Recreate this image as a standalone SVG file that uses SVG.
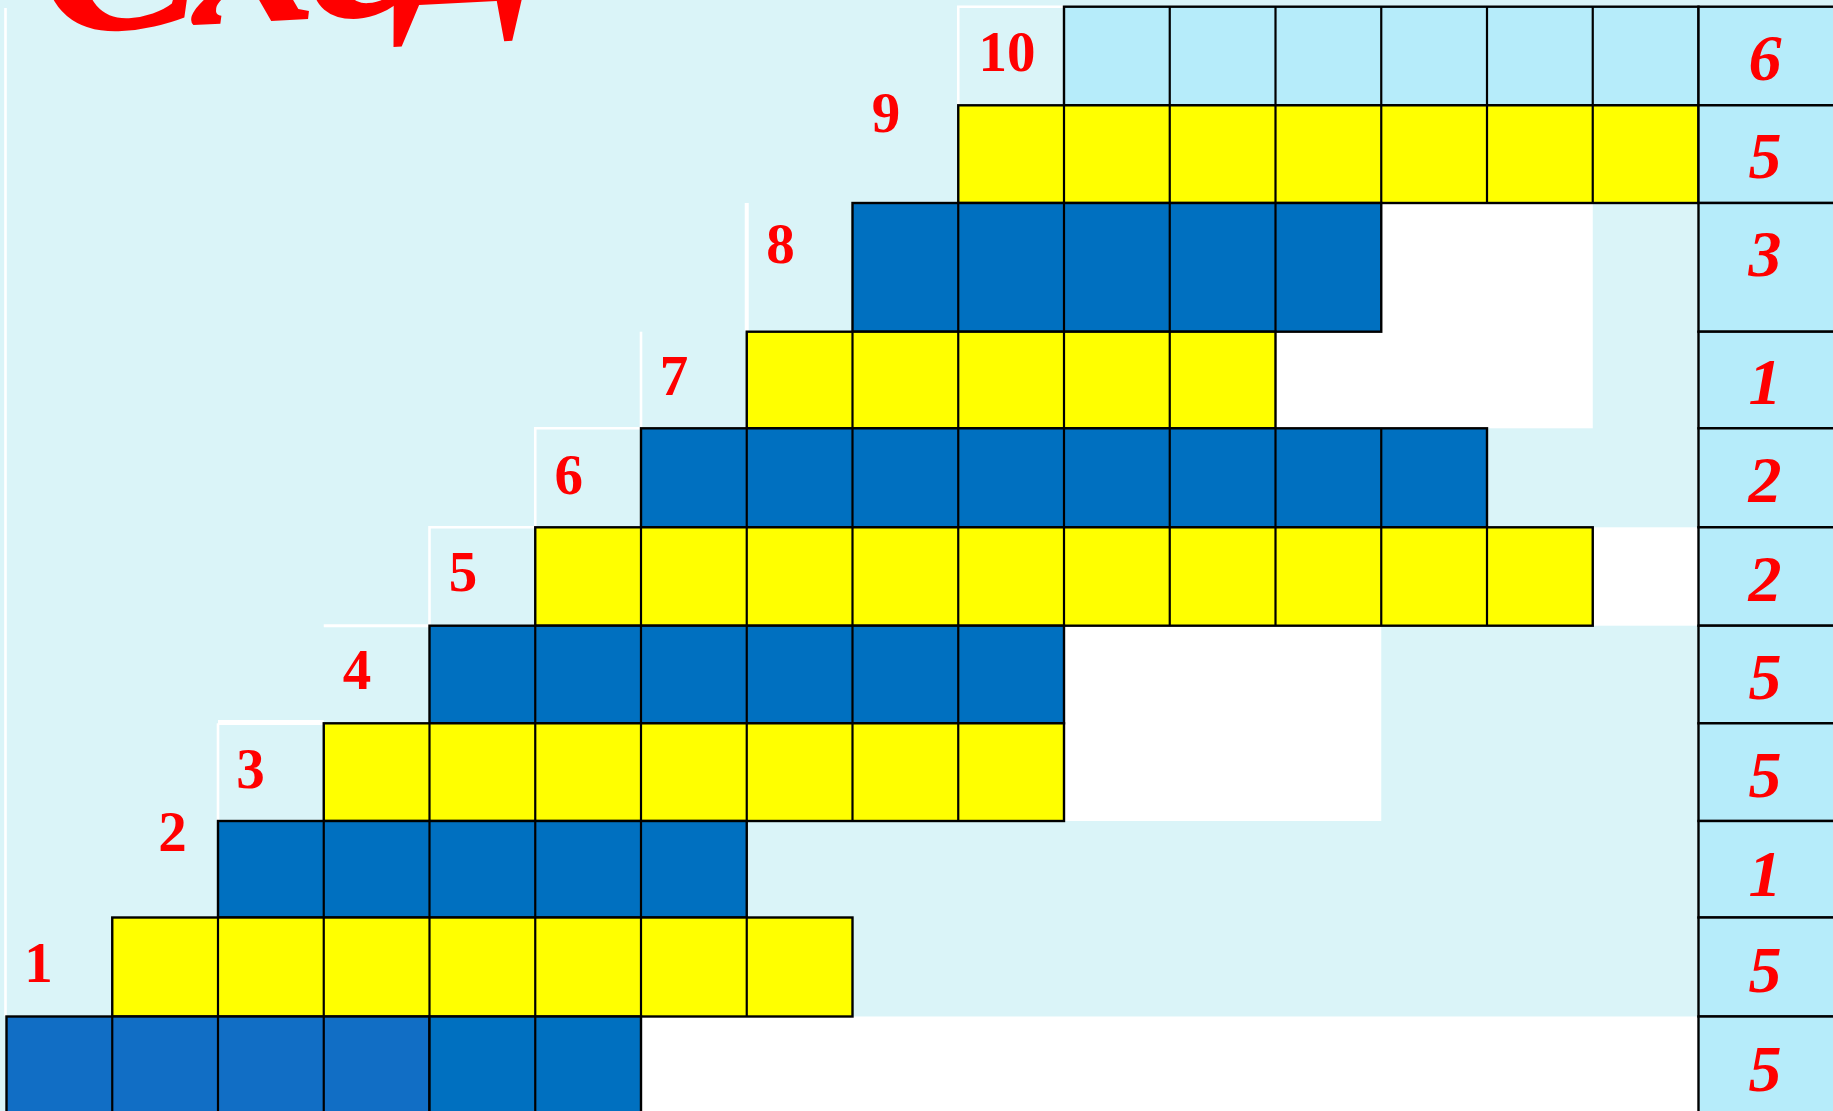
<svg xmlns="http://www.w3.org/2000/svg" width="1833" height="1111" viewBox="0 0 1833 1111">
<style>
.y{fill:#FFFF00;stroke:#000;stroke-width:2.4}
.b{fill:#0070C0;stroke:#000;stroke-width:2.4}
.b2{fill:#116EC5;stroke:#000;stroke-width:2.4}
.lb{fill:#B6ECFA;stroke:#000;stroke-width:2.4}
.grid{fill:none;stroke:#000;stroke-width:2.2}
.wl{fill:none;stroke:#FFFFFF;stroke-width:2.6}
.lbl{font-family:"Liberation Serif","Times New Roman",serif;font-weight:bold;font-size:57px;fill:#FF0000;text-anchor:middle}
.num{font-family:"Liberation Serif","Times New Roman",serif;font-weight:bold;font-style:italic;font-size:66px;fill:#FF0000;text-anchor:middle}
.title{font-family:"Liberation Serif","Times New Roman",serif;font-weight:bold;font-style:italic;font-size:250px;fill:#FF0000;letter-spacing:-12px}
</style>
<rect id="background" x="0" y="0" width="1833" height="1111" fill="#DAF4F8"/>
<g id="white-areas" fill="#FFFFFF">
<rect x="1275.5" y="203" width="317.25" height="225.3"/>
<rect x="1592.75" y="527.3" width="105.75" height="98.4"/>
<rect x="1064" y="625.7" width="317.25" height="195.3"/>
<rect x="641" y="1016.5" width="1057.5" height="95"/>
</g>
<g id="label-frames">
<path class="wl" d="M5.5 8 V1016"/>
<path class="wl" d="M958.25 105.3 V6.7 H1064"/>
<path class="wl" d="M746.75 331.7 V203" style="stroke-width:4"/>
<path class="wl" d="M641 428.3 V331.7"/>
<path class="wl" d="M535.25 527.3 V428.3 H641"/>
<path class="wl" d="M429.5 625.7 V527.3 H535.25"/>
<path class="wl" d="M323.75 625.7 H429.5" style="stroke-width:3"/>
<path class="wl" d="M218 821 V723.3"/>
<path class="wl" d="M218 722.5 H323.75" style="stroke-width:5"/>
</g>
<g id="connectors"></g>
<g id="row-10">
<rect class="lb" x="1064" y="6.7" width="634.5" height="98.6"/>
<path class="grid" d="M1169.75 6.7V105.3M1275.5 6.7V105.3M1381.25 6.7V105.3M1487 6.7V105.3M1592.75 6.7V105.3"/>
<text class="lbl" x="1007" y="70.7">10</text>
</g>
<g id="row-9">
<rect class="y" x="958.25" y="105.3" width="740.25" height="97.7"/>
<path class="grid" d="M1064 105.3V203M1169.75 105.3V203M1275.5 105.3V203M1381.25 105.3V203M1487 105.3V203M1592.75 105.3V203"/>
<text class="lbl" x="886" y="132">9</text>
</g>
<g id="row-8">
<rect class="b" x="852.5" y="203" width="528.75" height="128.7"/>
<path class="grid" d="M958.25 203V331.7M1064 203V331.7M1169.75 203V331.7M1275.5 203V331.7"/>
<text class="lbl" x="780.5" y="263">8</text>
</g>
<g id="row-7">
<rect class="y" x="746.75" y="331.7" width="528.75" height="96.6"/>
<path class="grid" d="M852.5 331.7V428.3M958.25 331.7V428.3M1064 331.7V428.3M1169.75 331.7V428.3"/>
<text class="lbl" x="674" y="395">7</text>
</g>
<g id="row-6">
<rect class="b" x="641" y="428.3" width="846" height="99"/>
<path class="grid" d="M746.75 428.3V527.3M852.5 428.3V527.3M958.25 428.3V527.3M1064 428.3V527.3M1169.75 428.3V527.3M1275.5 428.3V527.3M1381.25 428.3V527.3"/>
<text class="lbl" x="568.7" y="494">6</text>
</g>
<g id="row-5">
<rect class="y" x="535.25" y="527.3" width="1057.5" height="98.4"/>
<path class="grid" d="M641 527.3V625.7M746.75 527.3V625.7M852.5 527.3V625.7M958.25 527.3V625.7M1064 527.3V625.7M1169.75 527.3V625.7M1275.5 527.3V625.7M1381.25 527.3V625.7M1487 527.3V625.7"/>
<text class="lbl" x="463" y="590.5">5</text>
</g>
<g id="row-4">
<rect class="b" x="429.5" y="625.7" width="634.5" height="97.6"/>
<path class="grid" d="M535.25 625.7V723.3M641 625.7V723.3M746.75 625.7V723.3M852.5 625.7V723.3M958.25 625.7V723.3"/>
<text class="lbl" x="357" y="689">4</text>
</g>
<g id="row-3">
<rect class="y" x="323.75" y="723.3" width="740.25" height="97.7"/>
<path class="grid" d="M429.5 723.3V821M535.25 723.3V821M641 723.3V821M746.75 723.3V821M852.5 723.3V821M958.25 723.3V821"/>
<text class="lbl" x="250.5" y="787.5">3</text>
</g>
<g id="row-2">
<rect class="b" x="218" y="821" width="528.75" height="96.5"/>
<path class="grid" d="M323.75 821V917.5M429.5 821V917.5M535.25 821V917.5M641 821V917.5"/>
<text class="lbl" x="172.5" y="850.5">2</text>
</g>
<g id="row-1">
<rect class="y" x="112.25" y="917.5" width="740.25" height="99"/>
<path class="grid" d="M218 917.5V1016.5M323.75 917.5V1016.5M429.5 917.5V1016.5M535.25 917.5V1016.5M641 917.5V1016.5M746.75 917.5V1016.5"/>
<text class="lbl" x="38.5" y="981.5">1</text>
</g>
<g id="row-0">
<rect class="b2" x="6.5" y="1016.5" width="423" height="100"/>
<rect class="b" x="429.5" y="1016.5" width="211.5" height="100"/>
<path class="grid" d="M112.25 1016.5V1111M218 1016.5V1111M323.75 1016.5V1111M535.25 1016.5V1111"/>
</g>
<g id="totals">
<rect class="lb" x="1698.5" y="6.7" width="140" height="98.6"/>
<rect class="lb" x="1698.5" y="105.3" width="140" height="97.7"/>
<rect class="lb" x="1698.5" y="203" width="140" height="128.7"/>
<rect class="lb" x="1698.5" y="331.7" width="140" height="96.6"/>
<rect class="lb" x="1698.5" y="428.3" width="140" height="99"/>
<rect class="lb" x="1698.5" y="527.3" width="140" height="98.4"/>
<rect class="lb" x="1698.5" y="625.7" width="140" height="97.6"/>
<rect class="lb" x="1698.5" y="723.3" width="140" height="97.7"/>
<rect class="lb" x="1698.5" y="821" width="140" height="96.5"/>
<rect class="lb" x="1698.5" y="917.5" width="140" height="99"/>
<rect class="lb" x="1698.5" y="1016.5" width="140" height="100"/>
<text class="num" x="1765" y="80">6</text>
<text class="num" x="1765" y="178">5</text>
<text class="num" x="1765" y="276">3</text>
<text class="num" x="1765" y="404">1</text>
<text class="num" x="1765" y="502">2</text>
<text class="num" x="1765" y="600.5">2</text>
<text class="num" x="1765" y="699">5</text>
<text class="num" x="1765" y="797">5</text>
<text class="num" x="1765" y="895.5">1</text>
<text class="num" x="1765" y="991.5">5</text>
<text class="num" x="1765" y="1090.5">5</text>
</g>
<g id="title">
<text class="title" x="40" y="33" transform="rotate(-3 40 33)">Схе<tspan font-size="190" dy="-8">Д</tspan></text>
</g>
</svg>
